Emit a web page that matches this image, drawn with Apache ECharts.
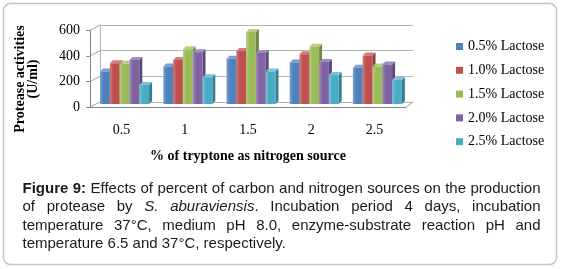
<!DOCTYPE html>
<html>
<head>
<meta charset="utf-8">
<script src="https://cdn.jsdelivr.net/npm/echarts@6/dist/echarts.min.js"></script>
<style>
  html, body { margin: 0; padding: 0; background: #fff; }
  #main { width: 561px; height: 269px; }
</style>
</head>
<body>
<div id="main"></div>
<script>
// chart data
const categories = ['0.5', '1', '1.5', '2', '2.5']
const seriesNames = ['0.5% Lactose', '1.0% Lactose', '1.5% Lactose', '2.0% Lactose', '2.5% Lactose']
const lac05 = [255, 295, 355, 325, 285]
const lac10 = [320, 345, 415, 390, 380]
const lac15 = [315, 430, 565, 450, 295]
const lac20 = [345, 405, 400, 330, 310]
const lac25 = [150, 210, 255, 228, 188]
const yTicks = [0, 200, 400, 600]

const seriesValues = [lac05, lac10, lac15, lac20, lac25]
const fronts = ['#4F81BD', '#C0504D', '#9BBB59', '#8064A2', '#4BACC6']
const sides = ['#385D8A', '#8C3836', '#71893F', '#5C4776', '#357D91']
const tops = ['#7A9FCF', '#D07C7A', '#B5CE83', '#A08BBD', '#7BC3D6']

// layout of the fake 3d box
const FRONT = { left: 90, right: 155, top: 30.5, bottom: 162 }
const BARS = { left: 93, right: 152, top: 27.5, bottom: 165 }
const BACK = { left: 100, right: 148, top: 25, bottom: 167 }
const DEPTH = 3

const serif = '"Liberation Serif", "Times New Roman", serif'
const sans = '"Liberation Sans", Arial, sans-serif'

const chart = echarts.init(document.getElementById('main'))

function renderBar (params, api) {
  const ci = api.value(0)
  const v = api.value(1)
  const base = api.coord([ci, 0])
  const top = api.coord([ci, v])
  const cw = api.size([1, 0])[0]
  const w = cw * 0.155
  const s = params.seriesIndex
  const x = base[0] + (s - 2.5) * w
  const y0 = base[1]
  const y1 = top[1]
  return {
    type: 'group',
    children: [{
      type: 'polygon',
      shape: { points: [[x + w, y1], [x + w, y0], [x + w + DEPTH, y0 - DEPTH], [x + w + DEPTH, y1 - DEPTH]] },
      style: { fill: sides[s] }
    }, {
      type: 'polygon',
      shape: { points: [[x, y1], [x + w, y1], [x + w + DEPTH, y1 - DEPTH], [x + DEPTH, y1 - DEPTH]] },
      style: { fill: tops[s] }
    }, {
      type: 'rect',
      shape: { x: x, y: y1, width: w, height: y0 - y1 },
      style: {
        fill: new echarts.graphic.LinearGradient(0, 0, 1, 0, [
          { offset: 0, color: tops[s] },
          { offset: 0.35, color: fronts[s] },
          { offset: 1, color: fronts[s] }
        ])
      }
    }]
  }
}

chart.setOption({
  animation: false,
  backgroundColor: '#fff',
  legend: {
    orient: 'vertical',
    left: 456,
    top: 39.5,
    padding: 0,
    icon: 'rect',
    itemWidth: 7,
    itemHeight: 7,
    itemGap: 9.8,
    data: seriesNames,
    textStyle: { fontFamily: serif, fontSize: 14, color: '#000', lineHeight: 14 }
  },
  grid: [
    Object.assign({}, FRONT),
    Object.assign({}, BARS),
    Object.assign({}, BACK)
  ],
  xAxis: [{
    gridIndex: 0,
    type: 'category',
    data: categories,
    axisLine: { lineStyle: { color: '#868686' } },
    axisTick: { length: 4, lineStyle: { color: '#868686' } },
    axisLabel: { margin: 16, fontFamily: serif, fontSize: 14, color: '#000' },
    name: '% of tryptone as nitrogen source',
    nameLocation: 'middle',
    nameGap: 42,
    nameTextStyle: { fontFamily: serif, fontSize: 14, fontWeight: 'bold', color: '#000' }
  }, {
    gridIndex: 1,
    type: 'category',
    data: categories,
    show: false
  }, {
    gridIndex: 2,
    type: 'category',
    data: categories,
    show: false
  }],
  yAxis: [{
    gridIndex: 0,
    type: 'value',
    min: 0,
    max: 600,
    interval: 200,
    axisLine: { show: true, lineStyle: { color: '#868686' } },
    axisTick: { show: true, length: 4, lineStyle: { color: '#868686' } },
    splitLine: { show: false },
    axisLabel: { margin: 10, fontFamily: serif, fontSize: 14, color: '#000' }
  }, {
    gridIndex: 1,
    type: 'value',
    min: 0,
    max: 600,
    show: false
  }, {
    gridIndex: 2,
    type: 'value',
    min: 0,
    max: 600,
    interval: 200,
    axisLine: { show: true, lineStyle: { color: '#b4b4b4' } },
    axisTick: { show: false },
    axisLabel: { show: false },
    splitLine: { show: true, lineStyle: { color: '#b4b4b4', width: 1 } }
  }],
  series: seriesNames.map(function (name, i) {
    return {
      name: name,
      type: 'custom',
      xAxisIndex: 1,
      yAxisIndex: 1,
      itemStyle: { color: fronts[i] },
      renderItem: renderBar,
      encode: { x: 0, y: 1 },
      data: seriesValues[i].map(function (v, j) { return [j, v] })
    }
  })
})

// caption, justified by hand
const CAP_LEFT = 22.5
const CAP_WIDTH = 518
const CAP_TOP = 188.5
const CAP_LINE = 18.5
const capLines = [
  { just: true, words: [[['Figure', 'b']], [['9:', 'b']], 'Effects', 'of', 'percent', 'of', 'carbon', 'and', 'nitrogen', 'sources', 'on', 'the', 'production'] },
  { just: true, words: ['of', 'protease', 'by', [['S.', 'i']], [['aburaviensis', 'i'], ['.', '']], 'Incubation', 'period', '4', 'days,', 'incubation'] },
  { just: true, words: ['temperature', '37°C,', 'medium', 'pH', '8.0,', 'enzyme-substrate', 'reaction', 'pH', 'and'] },
  { just: false, words: ['temperature', '6.5', 'and', '37°C,', 'respectively.'] }
]

const ctx = document.createElement('canvas').getContext('2d')
function capFont (st) {
  return (st === 'i' ? 'italic ' : '') + (st === 'b' ? 'bold ' : '') + '15px ' + sans
}
function measure (text, st) {
  ctx.font = capFont(st)
  return ctx.measureText(text).width
}

const graphics = []
capLines.forEach(function (line, li) {
  const words = line.words.map(function (w) { return typeof w === 'string' ? [[w, '']] : w })
  const widths = words.map(function (runs) {
    return runs.reduce(function (a, r) { return a + measure(r[0], r[1]) }, 0)
  })
  const total = widths.reduce(function (a, b) { return a + b }, 0)
  const gap = line.just ? (CAP_WIDTH - total) / (words.length - 1) : measure(' ', '')
  let x = CAP_LEFT
  const y = CAP_TOP + li * CAP_LINE
  words.forEach(function (runs, wi) {
    let rx = x
    runs.forEach(function (r) {
      graphics.push({
        type: 'text',
        x: rx,
        y: y,
        silent: true,
        style: { text: r[0], font: capFont(r[1]), fill: '#1a1a1a', align: 'left', verticalAlign: 'middle' }
      })
      rx += measure(r[0], r[1])
    })
    x += widths[wi] + gap
  })
})

// outer frame
graphics.push({
  type: 'rect',
  silent: true,
  shape: { x: 3.5, y: 3.5, width: 553, height: 261, r: 7 },
  style: { fill: 'none', stroke: '#c4c4c4', lineWidth: 1.5 }
})

// y axis title
graphics.push({
  type: 'text',
  x: 27,
  y: 79,
  rotation: Math.PI / 2,
  silent: true,
  style: {
    text: 'Protease activities\n(U/ml)',
    font: 'bold 14px ' + serif,
    fill: '#000',
    align: 'center',
    verticalAlign: 'middle',
    lineHeight: 13
  }
})

// slanted edges of the left wall and the floor, placed through the axes
yTicks.forEach(function (v) {
  const yf = chart.convertToPixel({ yAxisIndex: 0 }, v)
  const yb = chart.convertToPixel({ yAxisIndex: 2 }, v)
  graphics.push({
    type: 'line',
    silent: true,
    shape: { x1: FRONT.left, y1: yf, x2: BACK.left, y2: yb },
    style: { stroke: '#a0a0a0', lineWidth: 1 }
  })
})
const y0f = chart.convertToPixel({ yAxisIndex: 0 }, 0)
const y0b = chart.convertToPixel({ yAxisIndex: 2 }, 0)
graphics.push({
  type: 'line',
  silent: true,
  shape: { x1: 561 - FRONT.right, y1: y0f, x2: 561 - BACK.right, y2: y0b },
  style: { stroke: '#a0a0a0', lineWidth: 1 }
})

chart.setOption({ graphic: graphics })
</script>
</body>
</html>
